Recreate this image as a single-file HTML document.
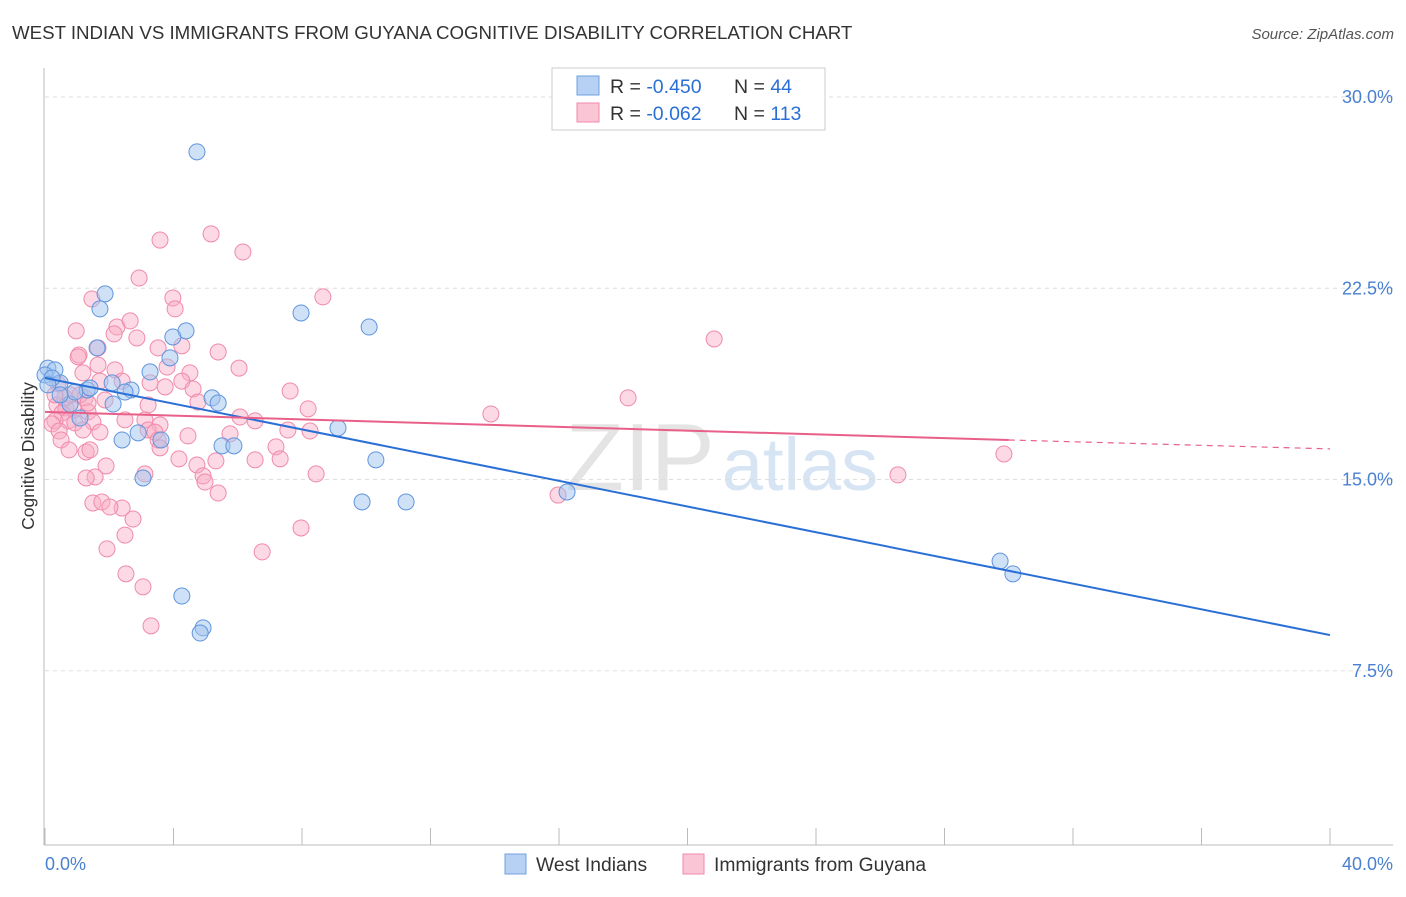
<!DOCTYPE html>
<html><head><meta charset="utf-8"><style>
body{margin:0;background:#fff;font-family:"Liberation Sans",sans-serif;}
svg text{font-family:"Liberation Sans",sans-serif;}
</style></head><body>
<svg id="chart" width="1406" height="892" xmlns="http://www.w3.org/2000/svg">
<text x="12" y="39" font-size="18.7" fill="#333">WEST INDIAN VS IMMIGRANTS FROM GUYANA COGNITIVE DISABILITY CORRELATION CHART</text>
<text x="1394" y="39" font-size="15" fill="#555" font-style="italic" text-anchor="end">Source: ZipAtlas.com</text>
<text x="640" y="490" font-size="96" fill="#e4e4e4" font-family="Liberation Serif" text-anchor="middle">ZIP</text>
<text x="800" y="490" font-size="74" fill="#d6e4f4" text-anchor="middle">atlas</text>
<g id="grid"></g>
<g id="axes"></g>
<g id="pts"></g>
<g id="lines"></g>
<text transform="translate(34,456) rotate(-90)" font-size="17.5" fill="#333" text-anchor="middle">Cognitive Disability</text>
<text x="45" y="870" font-size="18" fill="#4a80d0">0.0%</text>
<text x="1393" y="870" font-size="18" fill="#4a80d0" text-anchor="end">40.0%</text>
<g>
<rect x="552" y="68" width="273" height="62" fill="#fff" stroke="#ccc"/>
<rect x="577" y="76" width="22" height="19" fill="#b7d1f4" stroke="#6fa0e0"/>
<rect x="577" y="103" width="22" height="19" fill="#fac6d6" stroke="#f08aaa"/>
<text x="610" y="93" font-size="19.5" fill="#333">R = <tspan fill="#2a6fd6">-0.450</tspan></text>
<text x="734" y="93" font-size="19.5" fill="#333">N = <tspan fill="#2a6fd6">44</tspan></text>
<text x="610" y="120" font-size="19.5" fill="#333">R = <tspan fill="#2a6fd6">-0.062</tspan></text>
<text x="734" y="120" font-size="19.5" fill="#333">N = <tspan fill="#2a6fd6">113</tspan></text>
</g>
<g>
<rect x="505" y="854" width="21" height="20" fill="#b7d1f4" stroke="#6fa0e0"/>
<text x="536" y="871" font-size="19.3" fill="#333">West Indians</text>
<rect x="683" y="854" width="21" height="20" fill="#fac6d6" stroke="#f08aaa"/>
<text x="714" y="871" font-size="19.3" fill="#333">Immigrants from Guyana</text>
</g>
</svg>
<script>
const yTicks=[7.5,15,22.5,30];
const yTickLabels=["7.5%","15.0%","22.5%","30.0%"];
const xTicks=[0,4,8,12,16,20,24,28,32,36,40];
const blueX=[4.73,1.87,1.71,7.97,10.09,4.39,3.98,1.62,3.89,0.09,0.31,0,3.27,2.09,0.47,1.31,2.68,2.49,5.20,2.12,0.78,5.39,1.09,9.12,2.90,2.40,3.61,5.51,5.88,10.30,3.05,9.87,11.24,16.25,29.73,30.13,4.26,4.92,4.83,0.22,0.09,1.40,0.93,0.47];
const blueY=[27.85,22.28,21.69,21.53,20.98,20.83,20.59,20.16,19.77,19.37,19.30,19.10,19.22,18.79,18.79,18.51,18.51,18.43,18.20,17.96,17.96,18.00,17.41,17.02,16.83,16.55,16.55,16.32,16.32,15.77,15.06,14.12,14.12,14.51,11.80,11.30,10.43,9.18,8.98,18.98,18.71,18.59,18.43,18.32];
const pinkX=[3.58,5.17,6.16,2.93,3.98,8.65,1.46,4.05,0.97,2.24,2.65,2.15,2.86,20.83,1.65,4.26,3.52,5.39,1.06,1.03,6.04,2.18,3.80,1.18,4.51,1.71,2.40,4.26,3.27,0.40,3.74,4.61,7.63,18.15,1.25,1.87,3.21,4.76,8.19,13.88,0.37,0.65,0.90,0.53,1.34,3.11,6.07,6.54,0.72,0.31,1.49,0.22,0.93,3.58,3.21,3.42,7.56,8.25,0.44,1.71,5.76,4.45,0.50,3.52,7.19,1.28,3.58,0.75,1.40,4.17,6.54,7.32,5.32,29.85,1.90,4.73,8.44,3.11,1.56,1.28,4.92,4.98,26.55,1.49,1.77,5.39,15.97,2.40,2.02,2.74,7.97,2.49,1.93,6.76,2.52,3.05,3.30,2.49,0.78,0.62,1.09,1.34,0.31,1.65,1.18];
const pinkY=[24.39,24.63,23.92,22.90,22.12,22.16,22.08,21.69,20.83,20.98,21.22,20.71,20.55,20.51,20.16,20.24,20.16,20.00,19.88,19.81,19.37,19.30,19.41,19.18,19.18,18.86,18.86,18.86,18.79,18.75,18.63,18.55,18.47,18.20,18.20,18.12,17.92,18.04,17.77,17.57,17.92,17.81,17.73,17.61,17.65,17.34,17.45,17.30,17.30,17.30,17.26,17.18,17.22,17.14,16.94,16.86,16.94,16.90,16.90,16.86,16.79,16.71,16.55,16.55,16.28,16.08,16.24,16.16,16.16,15.81,15.77,15.81,15.73,16.00,15.53,15.57,15.22,15.22,15.10,15.06,15.14,14.90,15.18,14.08,14.12,14.47,14.39,13.88,13.92,13.45,13.10,12.82,12.28,12.16,11.30,10.79,9.26,17.34,18.32,18.20,18.32,18.00,18.32,19.49,16.94];
const blueTrend=[[0,18.98],[40,8.9]];
const pinkTrend=[[0,17.65],[30,16.55],[40,16.2]];

const NS="http://www.w3.org/2000/svg";
const X=v=>45+v/40*1285;
const Y=v=>862-v*25.5;
function mk(tag,attrs,parent){const e=document.createElementNS(NS,tag);for(const k in attrs)e.setAttribute(k,attrs[k]);document.getElementById(parent).appendChild(e);return e;}
yTicks.forEach((t,i)=>{
  const g=mk('line',{x1:45,x2:1393,y1:Y(t),y2:Y(t),stroke:'#ddd','stroke-dasharray':'4,4'},'grid');
  
  
  const tx=mk('text',{x:1393,y:Y(t)+6,'font-size':18,fill:'#4a80d0','text-anchor':'end'},'grid');
  tx.textContent=yTickLabels[i];
  
  
});
const ax=mk('line',{x1:44,x2:44,y1:68,y2:845,stroke:'#bbb'},'axes');


const bx=mk('line',{x1:44,x2:1393,y1:845,y2:845,stroke:'#bbb'},'axes');


xTicks.forEach(t=>{
  const l=mk('line',{x1:X(t),x2:X(t),y1:828,y2:845,stroke:'#bbb'},'axes');
  
  
});
pinkX.forEach((x,i)=>{
  const c=mk('circle',{cx:X(x),cy:Y(pinkY[i]),r:8,fill:'rgba(248,170,196,0.45)',stroke:'#f08aaa','stroke-width':1},'pts');
  
  
});
blueX.forEach((x,i)=>{
  const c=mk('circle',{cx:X(x),cy:Y(blueY[i]),r:8,fill:'rgba(160,196,240,0.5)',stroke:'#5f94dc','stroke-width':1},'pts');
  
  
});
const bl=mk('line',{x1:X(blueTrend[0][0]),y1:Y(blueTrend[0][1]),x2:X(blueTrend[1][0]),y2:Y(blueTrend[1][1]),stroke:'#2a6fd6','stroke-width':2},'lines');


const pl=mk('line',{x1:X(pinkTrend[0][0]),y1:Y(pinkTrend[0][1]),x2:X(pinkTrend[1][0]),y2:Y(pinkTrend[1][1]),stroke:'#e8608a','stroke-width':2},'lines');


const pd=mk('line',{x1:X(pinkTrend[1][0]),y1:Y(pinkTrend[1][1]),x2:X(pinkTrend[2][0]),y2:Y(pinkTrend[2][1]),stroke:'#e8608a','stroke-width':1.2,'stroke-dasharray':'6,5'},'lines');


</script>
</body></html>
